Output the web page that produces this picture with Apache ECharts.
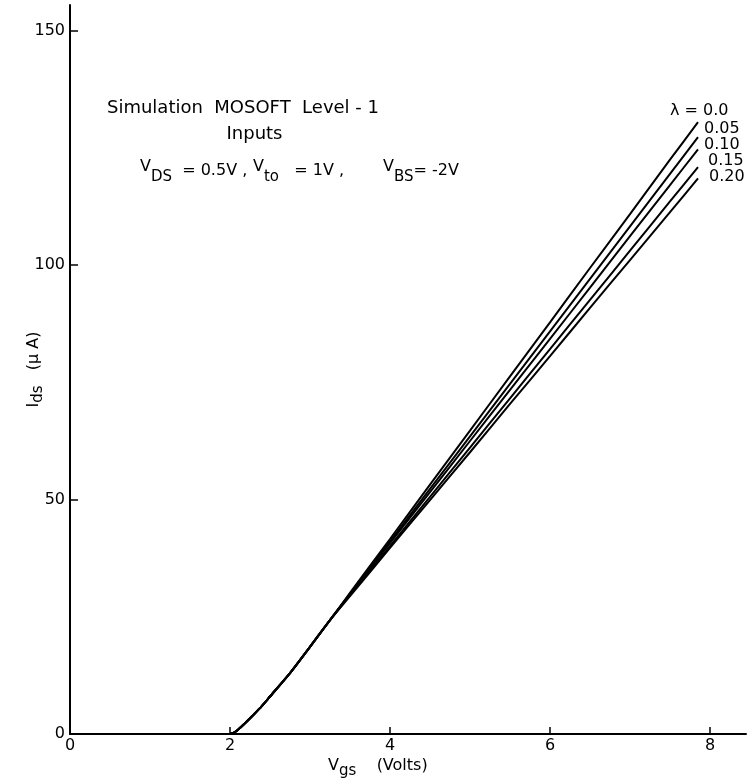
<!DOCTYPE html>
<html><head><meta charset="utf-8">
<script src="https://cdn.jsdelivr.net/npm/echarts@6/dist/echarts.min.js"></script>
<style>html,body{margin:0;padding:0;background:#fff}#c{width:747px;height:784px}</style>
</head><body><div id="c"></div>
<script>
// ---- data ----
const vgsCommon = [2.0, 2.05, 2.1, 2.2, 2.3, 2.4, 2.5, 2.75, 3.0, 3.25];
const idsCommon = [0, 0.3, 0.9, 2.5, 4.2, 6.0, 8.0, 13.0, 18.6, 24.3];
const vgsUpper = [3.5, 4.0, 4.5, 5.0, 5.5, 6.0, 6.5, 7.0, 7.5, 7.85];
const ids_l000 = [30.1, 41.6, 53.2, 64.7, 76.3, 87.8, 99.4, 110.9, 122.5, 130.5];
const ids_l005 = [29.9, 41.1, 52.3, 63.5, 74.7, 85.9, 97.1, 108.3, 119.5, 127.3];
const ids_l010 = [29.8, 40.7, 51.6, 62.5, 73.4, 84.3, 95.2, 106.2, 117.1, 124.7];
const ids_l015 = [29.6, 40.1, 50.6, 61.1, 71.6, 82.1, 92.6, 103.1, 113.6, 120.9];
const ids_l020 = [29.4, 39.7, 49.9, 60.1, 70.4, 80.6, 90.9, 101.1, 111.3, 118.5];
const lambdaLabels = ['\u03BB = 0.0', '0.05', '0.10', '0.15', '0.20'];
const xTicks = [0, 2, 4, 6, 8];
const yTicks = [0, 50, 100, 150];

// ---- styling ----
const FONT = 'DejaVu Sans';
const labelOffsets = [[-28, -11], [6, -8], [6, -5], [10, -6], [11, -2]];
const lambdaSeries = [ids_l000, ids_l005, ids_l010, ids_l015, ids_l020];

const chart = echarts.init(document.getElementById('c'), null, {renderer: 'canvas'});

const series = lambdaSeries.map((ys, i) => ({
  type: 'line',
  name: lambdaLabels[i],
  data: vgsCommon.map((x, j) => [x, idsCommon[j]]).concat(vgsUpper.map((x, j) => [x, ys[j]])),
  showSymbol: false,
  symbol: 'none',
  smooth: 0.2,
  silent: true,
  lineStyle: {color: '#000', width: 2}
}));

const richMain = {
  b: {fontSize: 16, fontFamily: FONT, color: '#000'},
  v: {fontSize: 16, fontFamily: FONT, color: '#000', padding: [0, 0, 8, 0]},
  s: {fontSize: 15, fontFamily: FONT, color: '#000', padding: [12, 0, 0, 0]}
};

const baseGraphics = [
  {type: 'text', x: 107, y: 108.5, silent: true,
   style: {text: 'Simulation  MOSOFT  Level - 1', fontSize: 18, fontFamily: FONT, fill: '#000', align: 'left', verticalAlign: 'middle'}},
  {type: 'text', x: 254.5, y: 134.5, silent: true,
   style: {text: 'Inputs', fontSize: 18, fontFamily: FONT, fill: '#000', align: 'center', verticalAlign: 'middle'}},
  {type: 'text', x: 140, y: 171, silent: true,
   style: {text: '{v|V}{s|DS}{b|  = 0.5V ,}', rich: richMain, align: 'left', verticalAlign: 'middle'}},
  {type: 'text', x: 253, y: 171, silent: true,
   style: {text: '{v|V}{s|to}{b|   = 1V ,}', rich: richMain, align: 'left', verticalAlign: 'middle'}},
  {type: 'text', x: 383, y: 171, silent: true,
   style: {text: '{v|V}{s|BS}{b|= -2V}', rich: richMain, align: 'left', verticalAlign: 'middle'}},
  {type: 'text', x: 328, y: 766, silent: true,
   style: {text: '{b|V}{s|gs}{b|    (Volts)}', rich: {
     b: {fontSize: 16, fontFamily: FONT, color: '#000'},
     s: {fontSize: 15, fontFamily: FONT, color: '#000', padding: [10, 0, 0, 0]}
   }, align: 'left', verticalAlign: 'middle'}}
];

const option = {
  animation: false,
  backgroundColor: '#fff',
  grid: {left: 70, top: 5, width: 676, height: 729, containLabel: false},
  xAxis: {
    type: 'value', min: 0, max: 8.45,
    axisLine: {show: true, onZero: false, lineStyle: {color: '#000', width: 2}},
    axisTick: {show: true, inside: true, length: 7, customValues: xTicks, lineStyle: {color: '#000', width: 1.5}},
    axisLabel: {customValues: xTicks, color: '#000', fontSize: 16, fontFamily: FONT, margin: 4},
    splitLine: {show: false}
  },
  yAxis: {
    type: 'value', min: 0, max: 155.5,
    axisLine: {show: true, onZero: false, lineStyle: {color: '#000', width: 2}},
    axisTick: {show: true, inside: true, length: 8, customValues: yTicks, lineStyle: {color: '#000', width: 1.5}},
    axisLabel: {customValues: yTicks, color: '#000', fontSize: 16, fontFamily: FONT, margin: 5},
    splitLine: {show: false},
    name: '{b|I}{s|ds}{b|   (\u03BC A)}',
    nameLocation: 'middle', nameRotate: 90, nameGap: 24, nameMoveOverlap: false,
    nameTextStyle: {rich: {
      b: {fontSize: 16, fontFamily: FONT, color: '#000'},
      s: {fontSize: 15, fontFamily: FONT, color: '#000', padding: [10, 0, 0, 0]}
    }}
  },
  series: series,
  graphic: baseGraphics
};
chart.setOption(option);

const labelGraphics = lambdaLabels.map((t, i) => {
  const ys = lambdaSeries[i];
  const p = chart.convertToPixel({gridIndex: 0}, [vgsUpper[vgsUpper.length - 1], ys[ys.length - 1]]);
  return {type: 'text', x: p[0] + labelOffsets[i][0], y: p[1] + labelOffsets[i][1], silent: true,
    style: {text: t, fontSize: 16, fontFamily: FONT, fill: '#000', align: 'left', verticalAlign: 'middle'}};
});
chart.setOption({graphic: baseGraphics.concat(labelGraphics)});
</script>
</body></html>
